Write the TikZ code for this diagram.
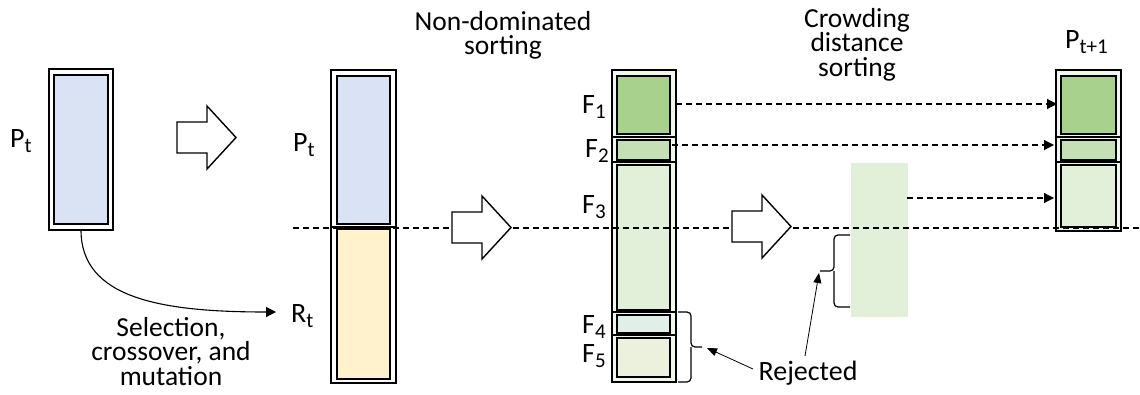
\documentclass[tikz,border=0pt]{standalone}
\usepackage{fontspec}
\setmainfont{Carlito}
\usetikzlibrary{arrows.meta}

\definecolor{popblue}{HTML}{DAE3F3}
\definecolor{offyellow}{HTML}{FFF2CC}
\definecolor{frontA}{HTML}{A9D18E}
\definecolor{frontB}{HTML}{C5E0B4}
\definecolor{frontC}{HTML}{E2F0D9}
\definecolor{frontD}{HTML}{E0F0E9}
\definecolor{frontE}{HTML}{ECF1DD}
\definecolor{gapgreen}{HTML}{F0F7EC}

% lowered subscript in the text font
\newcommand\lowsub[1]{\raisebox{-0.2em}{\fontsize{21}{21}\selectfont #1}}

% hollow block arrow: left x, centre y
\newcommand\blockarrow[2]{%
  \draw[hollow] (#1,#2-15.5) -- ++(30,0) -- ++(0,-16) -- ++(29,31.5)
    -- ++(-29,31.5) -- ++(0,-16) -- ++(-30,0) -- cycle;}

\begin{document}
\begin{tikzpicture}[x=1pt,y=-1pt,
  shell/.style={draw=black, line width=1.4pt, fill=#1}, shell/.default=white,
  core/.style={draw=black, line width=1.4pt, fill=#1},
  lbl/.style={inner sep=0pt, font=\fontsize{28}{24}\selectfont},
  captext/.style={inner sep=0pt, align=center, font=\fontsize{27.5}{24.5}\selectfont},
  guide/.style={line width=1.2pt, dash pattern=on 6pt off 4pt},
  flow/.style={guide, -{Triangle[length=10pt,width=10pt]}},
  pointer/.style={line width=0.8pt, -{Triangle[length=10pt,width=8pt]}},
  curvearrow/.style={line width=1.1pt, -{Triangle[length=10pt,width=10pt]}},
  bracket/.style={line width=1.2pt, rounded corners=4pt},
  hollow/.style={draw=black, line width=1.4pt, fill=white, line join=miter}]

\useasboundingbox (0,0) rectangle (1140,394);

% ---- parent population P_t
\draw[shell] (49,69) rectangle (113,230);
\draw[core=popblue] (54,75) rectangle (108,224);
\coordinate (pfoot) at (81,230);
\node[lbl, anchor=base west] (plab) at (10,147) {P\lowsub{t}};

% ---- combined population R_t
\draw[shell] (331,70) rectangle (396,227);
\draw[core=popblue] (337,76) rectangle (390,224);
\draw[shell] (331,227) rectangle (396,383);
\draw[core=offyellow] (337,229) rectangle (390,379);
\node[lbl, anchor=base west] (qlab) at (293,151) {P\lowsub{t}};
\node[lbl, anchor=base west] (rlab) at (291,322) {R\lowsub{t}};
\coordinate (rin) at (276,312);

% ---- fronts F_1 ... F_5
\draw[shell=gapgreen] (612,70) rectangle (676,137);
\draw[core=frontA] (617,76) rectangle (670,134);
\draw[shell=gapgreen] (612,137) rectangle (676,162);
\draw[core=frontB] (617,140) rectangle (670,160);
\draw[shell=gapgreen] (612,162) rectangle (676,312);
\draw[core=frontC] (617,165) rectangle (670,310);
\draw[shell=gapgreen] (612,312) rectangle (676,335);
\draw[core=frontD] (617,315) rectangle (670,333);
\draw[shell=gapgreen] (612,335) rectangle (676,382);
\draw[core=frontE] (617,338) rectangle (670,377);
\node[lbl, anchor=base west] (f1) at (582,113) {F\lowsub{1}};
\node[lbl, anchor=base west] (f2) at (585,157) {F\lowsub{2}};
\node[lbl, anchor=base west] (f3) at (582,213) {F\lowsub{3}};
\node[lbl, anchor=base west] (f4) at (582,333) {F\lowsub{4}};
\node[lbl, anchor=base west] (f5) at (582,362) {F\lowsub{5}};

% ---- part of F_3 kept after crowding distance sorting
\fill[frontC] (851,163) rectangle (908,317);

% ---- next population P_{t+1}
\draw[shell=gapgreen] (1056,70) rectangle (1121,137);
\draw[core=frontA] (1061,76) rectangle (1116,134);
\draw[shell=gapgreen] (1056,137) rectangle (1121,162);
\draw[core=frontB] (1061,140) rectangle (1116,160);
\draw[shell=gapgreen] (1056,162) rectangle (1121,231);
\draw[core=frontC] (1061,165) rectangle (1116,227);
\node[lbl, anchor=base west] (nlab) at (1065,48) {P\lowsub{t+1}};

% ---- population size cut
\coordinate (cutL) at (293,228);
\coordinate (cutR) at (1140,228);
\draw[guide] (cutL) -- (cutR);

% ---- transfers into P_{t+1}
\coordinate (s1) at (676,104);  \coordinate (t1) at (1057,104);
\coordinate (s2) at (672,145);  \coordinate (t2) at (1054,145);
\coordinate (s3) at (907,198);  \coordinate (t3) at (1054,198);
\draw[flow] (s1) -- (t1);
\draw[flow] (s2) -- (t2);
\draw[flow] (s3) -- (t3);

% ---- process arrows
\blockarrow{177}{137.5}
\blockarrow{452}{227.5}
\blockarrow{732}{226.5}

% ---- variation step
\draw[curvearrow] (pfoot) .. controls (81,298) and (160,312) .. (rin);
\node[captext, anchor=north] (var) at (171,317)
  {Selection,\\crossover, and\\mutation};

% ---- step captions
\node[captext, anchor=north] (nds) at (503,11) {Non-dominated\\sorting};
\node[captext, anchor=north] (cds) at (857,8) {Crowding\\distance\\sorting};

% ---- rejected parts
\draw[bracket] (850,235) -| (834,271) -- (820,271);
\draw[bracket] (850,307) -| (834,271);
\coordinate (b1) at (819,273);
\draw[bracket] (678,312) -| (691,347) -- (702,347);
\draw[bracket] (678,382) -| (691,347);
\coordinate (b2) at (707,348);
\node[lbl, anchor=base] (rej) at (808,380) {Rejected};
\coordinate (r1) at (753,369);
\coordinate (r2) at (805,356);
\draw[pointer] (r1) -- (b2);
\draw[pointer] (r2) -- (b1);
\end{tikzpicture}
\end{document}
